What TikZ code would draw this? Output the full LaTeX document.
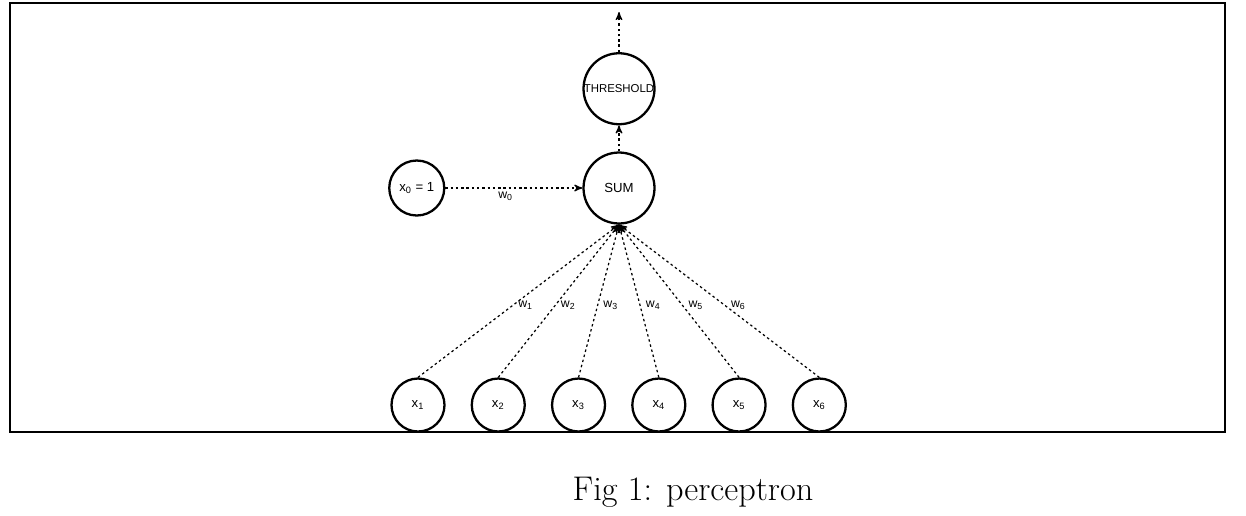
\documentclass[tikz,border=0pt]{standalone}
\usepackage{fontspec}
\newfontfamily\diagfont{Liberation Sans}
\usetikzlibrary{arrows,positioning}

\begin{document}
\begin{tikzpicture}[
	x=0.02cm,
	y=-0.02cm,
	node distance=0.5cm,
	pile/.style={
		line width=0.7pt,
		dash pattern=on 1.4pt off 1.6pt,
		->,
		>=stealth',
		arrows={-stealth'[scale=1.3]}
	},
	neuron/.style={
		circle,
		draw,
		line width=1.3pt,
		inner sep=0pt,
		minimum size=1.42cm,
		font=\diagfont\fontsize{7.5}{8}\selectfont
	},
	eingang/.style={
		neuron,
		minimum size=1.06cm
	},
	gewicht/.style={
		font=\diagfont\fontsize{7}{8}\selectfont,
		inner sep=3pt
	}
]
\useasboundingbox (0,0) rectangle (1246,515);
\draw[line width=1.6pt] (10,3) rectangle (1225,432);

\node[neuron] (SUM) at (619,188) {SUM};
\node[neuron, font=\diagfont\fontsize{6.5}{7}\selectfont] (THR) [above=0.52cm of SUM] {THRESHOLD};
\node[neuron, minimum size=1.1cm] (XNULL) [left=2.74cm of SUM] {x\textsubscript{0} = 1};

\node[eingang] (X1) at (418,405) {x\textsubscript{1}};
\node[eingang] (X2) [right=of X1] {x\textsubscript{2}};
\node[eingang] (X3) [right=of X2] {x\textsubscript{3}};
\node[eingang] (X4) [right=of X3] {x\textsubscript{4}};
\node[eingang] (X5) [right=of X4] {x\textsubscript{5}};
\node[eingang] (X6) [right=of X5] {x\textsubscript{6}};

\coordinate (OUT) at (619,12);

\draw[pile] (THR) -- (OUT);
\draw[pile] (SUM) -- (THR);
\draw[pile] (XNULL) -- node[gewicht, pos=0.44, below, inner sep=2pt] {w\textsubscript{0}} (SUM);

\foreach \i in {1,...,6}
	\draw[pile] (X\i.north) -- node[gewicht, pos=0.47, anchor=west] {w\textsubscript{\i}} (SUM.south);

\node (CAP) at (693,492) {\fontsize{19.5}{22}\selectfont Fig 1: perceptron};

\end{tikzpicture}
\end{document}
